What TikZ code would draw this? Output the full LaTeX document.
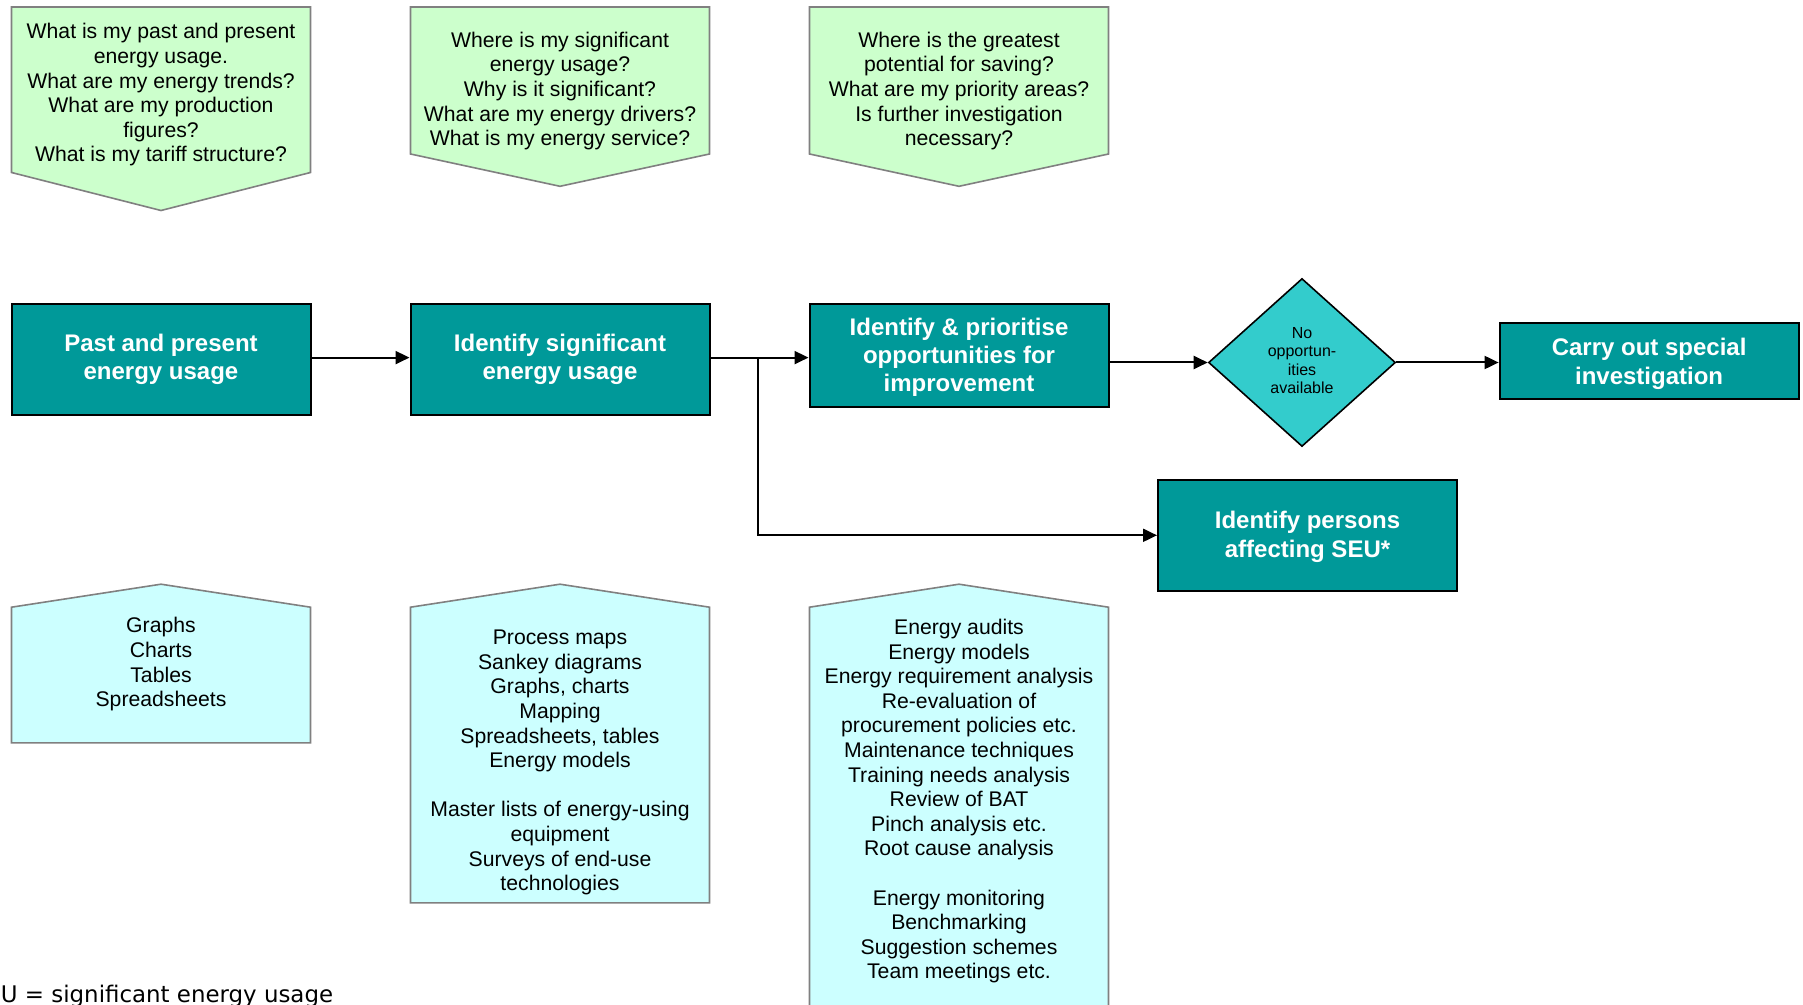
\documentclass[tikz,border=0pt]{standalone}
\usepackage{fontspec}
\setmainfont{Liberation Sans}
\newfontfamily\footfont{DejaVu Sans}
\usetikzlibrary{arrows.meta,shapes.geometric}
\definecolor{boxteal}{HTML}{009999}
\definecolor{diateal}{HTML}{33CCCC}
\definecolor{qgreen}{HTML}{CCFFCC}
\definecolor{tcyan}{HTML}{CCFFFF}
\definecolor{pentaborder}{HTML}{808080}
\newcommand{\liftlines}[2]{\raisebox{#1}[\height][\depth]{\begin{tabular}{@{}c@{}}#2\end{tabular}}}
\tikzset{
  procbox/.style={draw=black, line width=1pt, fill=boxteal, text=white,
    font=\bfseries\fontsize{12}{14.3}\selectfont, align=center,
    minimum width=149.5pt, inner sep=0pt},
  decbox/.style={diamond, draw=black, line width=0.8pt, fill=diateal,
    font=\fontsize{8}{9.2}\selectfont, align=center, inner sep=0pt,
    minimum width=93.5pt, minimum height=84pt, aspect=1.1},
  qpenta/.style={draw=pentaborder, line width=0.8pt, fill=qgreen},
  tpenta/.style={draw=pentaborder, line width=0.8pt, fill=tcyan},
  qtext/.style={font=\fontsize{10.6}{12.3}\selectfont, align=center, inner sep=0pt},
  arr/.style={draw=black, line width=1pt, -{Triangle[length=7pt,width=6.5pt]}},
  conn/.style={draw=black, line width=1pt}
}
\begin{document}
\begin{tikzpicture}[x=0.5pt,y=-0.5pt]
\useasboundingbox (0,0) rectangle (1803,1005);
\clip (0,0) rectangle (1803,1005);
\fill[white] (0,0) rectangle (1803,1005);

% question pentagons (top)
\draw[qpenta] (11.5,7) -- (310.5,7) -- (310.5,172.5) -- (161,210.5) -- (11.5,172.5) -- cycle;
\draw[qpenta] (410.5,7) -- (709.5,7) -- (709.5,154) -- (560,186.3) -- (410.5,154) -- cycle;
\draw[qpenta] (809.5,7) -- (1108.5,7) -- (1108.5,154) -- (959,186.3) -- (809.5,154) -- cycle;

\node[qtext] (q1) at (161,95) {What is my past and present\\energy usage.\\What are my energy trends?\\What are my production\\figures?\\What is my tariff structure?};
\node[qtext] (q2) at (560,91) {Where is my significant\\energy usage?\\Why is it significant?\\What are my energy drivers?\\What is my energy service?};
\node[qtext] (q3) at (959,91) {Where is the greatest\\potential for saving?\\What are my priority areas?\\Is further investigation\\necessary?};

% tool pentagons (bottom)
\draw[tpenta] (11.5,607.2) -- (161,584.2) -- (310.5,607.2) -- (310.5,742.9) -- (11.5,742.9) -- cycle;
\draw[tpenta] (410.5,607.2) -- (560,584.2) -- (709.5,607.2) -- (709.5,902.8) -- (410.5,902.8) -- cycle;
\draw[tpenta] (809.5,607.2) -- (959,584.2) -- (1108.5,607.2) -- (1108.5,1100) -- (809.5,1100) -- cycle;

\node[qtext] (t1) at (161,664.3) {Graphs\\Charts\\Tables\\Spreadsheets};
\node[qtext] (t2) at (560,762.5) {Process maps\\Sankey diagrams\\Graphs, charts\\Mapping\\Spreadsheets, tables\\Energy models\\[12.3pt]Master lists of energy-using\\equipment\\Surveys of end-use\\technologies};
\node[qtext] (t3) at (959,801.3) {Energy audits\\Energy models\\Energy requirement analysis\\Re-evaluation of\\procurement policies etc.\\Maintenance techniques\\Training needs analysis\\Review of BAT\\Pinch analysis etc.\\Root cause analysis\\[12.3pt]Energy monitoring\\Benchmarking\\Suggestion schemes\\Team meetings etc.};

% process boxes
\node[procbox, minimum height=55.8pt] (A) at (161,359.4) {Past and present\\energy usage};
\node[procbox, minimum height=55.8pt] (B) at (560,359.4) {Identify significant\\energy usage};
\node[procbox, minimum height=51.7pt, font=\bfseries\fontsize{12}{13.9}\selectfont] (C) at (959,355.4) {\liftlines{-1.15pt}{Identify \& prioritise\\opportunities for\\improvement}};
\node[decbox] (N) at (1302,362.5) {\liftlines{0pt}{No\\opportun-\\ities\\available}};
\node[procbox, minimum height=38pt] (D) at (1649.1,361.1) {\liftlines{-1.45pt}{Carry out special\\investigation}};
\node[procbox, minimum height=55.8pt] (E) at (1307.5,535.3) {\liftlines{-0.9pt}{Identify persons\\affecting SEU*}};

% connectors
\draw[arr] (A.east |- 0,357.6) -- (B.west |- 0,357.6);
\coordinate (Bout) at (B.east |- 0,357.6);
\coordinate (split) at (758,357.6);
\draw[arr] (Bout) -- (C.west |- Bout);
\draw[arr] (split) |- (E.west);
\draw[arr] (C.east |- N.west) -- (N.west);
\draw[arr] (N.east) -- (D.west |- N.east);

% footnote
\node[anchor=base west, inner sep=0pt, font=\footfont\fontsize{11.45}{13.5}\selectfont] (foot) at (0.5,1002.2) {U = significant energy usage};
\end{tikzpicture}
\end{document}
